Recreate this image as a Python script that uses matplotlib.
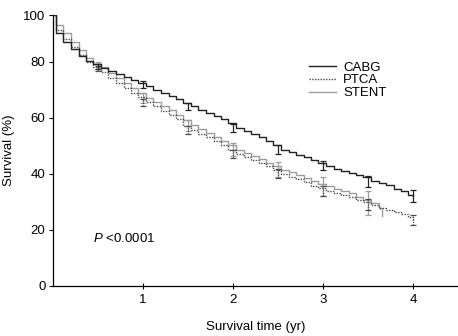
import numpy as np
import matplotlib
matplotlib.use("Agg")
import matplotlib.pyplot as plt

plt.rcParams["font.family"] = ["Liberation Sans", "DejaVu Sans"]
plt.rcParams["mathtext.fontset"] = "custom"
plt.rcParams["mathtext.it"] = "Liberation Sans:italic"
plt.rcParams["mathtext.rm"] = "Liberation Sans"

# ===============================
# Data
# ===============================
cabg_t = [0, 0.04, 0.12, 0.21, 0.29, 0.37, 0.45, 0.54, 0.62, 0.70, 0.79, 0.87, 0.95,
          1.04, 1.12, 1.20, 1.29, 1.37, 1.45, 1.54, 1.62, 1.70, 1.79, 1.87, 1.95,
          2.04, 2.12, 2.20, 2.29, 2.37, 2.45, 2.54, 2.62, 2.70, 2.79, 2.87, 2.95,
          3.04, 3.12, 3.20, 3.29, 3.37, 3.45, 3.54, 3.62, 3.70, 3.79, 3.87, 3.95, 4.0]
cabg_s = [100, 92.3, 88.3, 85.2, 82.3, 80.3, 79.0, 77.8, 76.6, 75.5, 74.5, 73.4, 72.3,
          71.2, 70.0, 68.9, 67.8, 66.6, 65.3, 64.0, 62.9, 61.8, 60.6, 59.4, 58.0,
          56.3, 55.2, 54.1, 53.0, 51.8, 50.3, 48.6, 47.7, 46.8, 45.9, 45.0, 44.0,
          42.6, 41.8, 41.0, 40.2, 39.5, 38.7, 37.5, 36.8, 36.0, 34.6, 33.8, 32.6, 32.1]

ptca_t = cabg_t
ptca_s = [100, 93.6, 89.9, 86.4, 83.0, 80.0, 78.0, 76.2, 74.2, 72.4, 70.6, 68.9, 67.2,
          65.5, 64.0, 62.5, 61.0, 59.4, 57.2, 55.5, 54.3, 53.0, 51.8, 50.4, 48.6,
          47.0, 46.0, 45.0, 44.0, 42.8, 41.5, 40.0, 39.0, 38.0, 37.0, 35.8, 35.0,
          34.0, 33.0, 32.4, 31.6, 30.6, 29.8, 29.0, 27.9, 27.1, 26.3, 25.6, 24.6, 23.6]

stent_t = [0, 0.04, 0.12, 0.21, 0.29, 0.37, 0.45, 0.54, 0.62, 0.70, 0.79, 0.87, 0.95,
           1.04, 1.12, 1.20, 1.29, 1.37, 1.45, 1.54, 1.62, 1.70, 1.79, 1.87, 1.95,
           2.04, 2.12, 2.20, 2.29, 2.37, 2.45, 2.54, 2.62, 2.70, 2.79, 2.87, 2.95,
           3.04, 3.12, 3.20, 3.29, 3.37, 3.45, 3.54, 3.62, 3.66]
stent_s = [100, 95.7, 92.3, 88.6, 85.0, 81.6, 79.2, 78.0, 75.8, 74.0, 72.2, 70.5, 68.8,
           67.0, 65.6, 64.1, 62.6, 61.1, 59.2, 57.3, 55.9, 54.6, 53.2, 51.8, 50.3,
           48.5, 47.4, 46.4, 45.3, 44.0, 42.8, 41.5, 40.5, 39.5, 38.5, 37.3, 36.3,
           35.5, 34.6, 33.8, 33.0, 31.8, 30.8, 29.5, 27.9, 24.8]

bar_t = [0.5, 1, 1.5, 2, 2.5, 3, 3.5, 4]
cabg_bar = [78.2, 71.8, 64.0, 56.3, 48.6, 42.9, 37.2, 32.1]
cabg_err = [1.0, 1.1, 1.2, 1.3, 1.5, 1.6, 1.9, 2.1]
ptca_bar = [77.5, 65.5, 55.5, 47.0, 40.0, 34.0, 29.0, 23.6]
ptca_err = [1.0, 1.2, 1.4, 1.5, 1.6, 1.8, 2.0, 1.8]
stent_bar_t = [0.5, 1, 1.5, 2, 2.5, 3, 3.5]
stent_bar = [78.5, 67.0, 57.3, 48.5, 41.5, 35.5, 29.5]
stent_err = [1.2, 1.8, 2.0, 2.3, 2.6, 3.3, 4.2]

y_ticks = [0, 20, 40, 60, 80, 100]
x_ticks = [1, 2, 3, 4]

# the top segment (80-100) of the y axis is squeezed in the original
def fwd(y):
    y = np.asarray(y, dtype=float)
    return np.where(y <= 80, y, 80 + (y - 80) * 0.83)

def inv(y):
    y = np.asarray(y, dtype=float)
    return np.where(y <= 80, y, 80 + (y - 80) / 0.83)

# ===============================
# Plot
# ===============================
fig = plt.figure(figsize=(4.58, 3.36), dpi=100)
ax = fig.add_axes([52.5 / 458, 50 / 336, 1 - 52.5 / 458, 271 / 336])
ax.set_yscale("function", functions=(fwd, inv))

c_cabg, c_ptca, c_stent = "#222222", "#4a4a4a", "#9e9e9e"
lw = 1.0

ax.plot(stent_t, stent_s, drawstyle="steps-post", color=c_stent, lw=lw, label="STENT", zorder=2)
ax.plot(ptca_t, ptca_s, drawstyle="steps-post", color=c_ptca, lw=lw, ls=(0, (1, 1)), label="PTCA", zorder=3)
ax.plot(cabg_t, cabg_s, drawstyle="steps-post", color=c_cabg, lw=lw, label="CABG", zorder=4)

ax.errorbar(stent_bar_t, stent_bar, yerr=stent_err, fmt="none", ecolor=c_stent, elinewidth=0.9, capsize=2.5, capthick=0.9, zorder=2)
eb = ax.errorbar(bar_t, ptca_bar, yerr=ptca_err, fmt="none", ecolor=c_ptca, elinewidth=0.9, capsize=2.5, capthick=0.9, zorder=3)
eb[2][0].set_linestyle((0, (1, 1)))
ax.errorbar(bar_t, cabg_bar, yerr=cabg_err, fmt="none", ecolor=c_cabg, elinewidth=0.9, capsize=2.5, capthick=0.9, zorder=4)

ax.set_xlim(0, 4.5)
ax.set_ylim(0, 100)
ax.set_xticks(x_ticks)
ax.set_yticks(y_ticks)
ax.spines["top"].set_visible(False)
ax.spines["right"].set_visible(False)
ax.spines["left"].set_linewidth(0.9)
ax.spines["bottom"].set_linewidth(0.9)
ax.tick_params(axis="x", direction="inout", length=5, width=0.8, labelsize=9.5, pad=3)
ax.tick_params(axis="y", direction="out", length=3, width=0.8, labelsize=9.5, pad=2)

ax.set_xlabel("Survival time (yr)", fontsize=9.5, labelpad=11)
ax.set_ylabel("Survival (%)", fontsize=9.5, labelpad=6)

handles, labels = ax.get_legend_handles_labels()
order = [2, 1, 0]
ax.legend([handles[i] for i in order], [labels[i] for i in order],
          loc="upper left", bbox_to_anchor=(0.632, 0.829), frameon=False,
          fontsize=9.5, handlelength=2.1, handletextpad=0.5, labelspacing=0.05,
          borderaxespad=0, borderpad=0)

ax.text(0.45, 16.8, r"$P$ <0.0001", fontsize=9.5, va="center", ha="left")

fig.savefig("out.png", dpi=100)
